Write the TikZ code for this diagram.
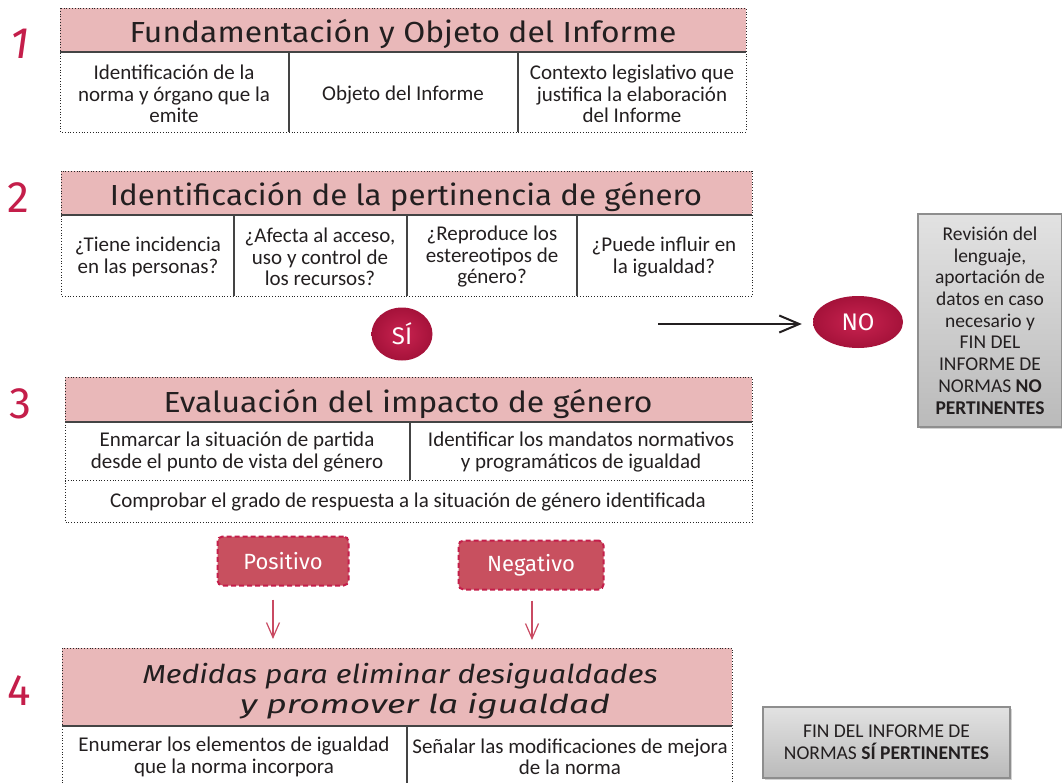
\documentclass[tikz,border=0pt]{standalone}
\usepackage{fontspec}
\usepackage{graphicx}
\setmainfont{Carlito}
\newfontfamily\hfont{Fira Sans}
\usetikzlibrary{arrows.meta,shadows,shapes.geometric}
\definecolor{pinkh}{HTML}{E9B8B9}
\definecolor{crim}{HTML}{C41E4A}
\definecolor{crimL}{HTML}{C92350}
\definecolor{crimD}{HTML}{A5123A}
\definecolor{posfill}{HTML}{C8505F}
\definecolor{arrowred}{HTML}{C94A62}
\definecolor{txt}{HTML}{231F20}
\definecolor{darkline}{HTML}{444444}
\definecolor{grayT}{HTML}{E2E2E2}
\definecolor{grayB}{HTML}{BABABA}
\definecolor{grayE}{HTML}{8E8E8E}
\newcommand\fitx[2]{\setbox0\hbox{#2}\pgfmathsetmacro\fitfac{#1/(\the\wd0)}\scalebox{\fitfac}[1]{\box0}}
\begin{document}
\begin{tikzpicture}[x=1pt,y=-1pt,
  outer/.style={draw=black!85, line width=0.8pt, dash pattern=on 0.8pt off 2pt},
  hline/.style={draw=darkline, line width=1.5pt},
  vline/.style={draw=darkline, line width=1.2pt},
  ttl/.style={font=\hfont\fontsize{29}{32}\selectfont, text=txt, anchor=base, inner sep=0pt},
  cell/.style={align=center, font=\fontsize{21}{21.5}\selectfont, text=txt, inner sep=0pt},
  num/.style={font=\hfont\fontsize{44}{46}\selectfont, text=crim, anchor=base, inner sep=0pt},
  oval/.style={ellipse, inner sep=0pt, shading=radial, inner color=crimL, outer color=crimD, text=white, font=\hfont\fontsize{24}{24}\selectfont},
  choice/.style={rectangle, rounded corners=5pt, fill=posfill, draw=crim, line width=2pt, dash pattern=on 5pt off 3pt, text=white, font=\hfont\fontsize{22}{22}\selectfont, minimum height=49, inner sep=0pt},
  graybox/.style={rectangle, top color=grayT, bottom color=grayB, draw=grayE, line width=1.2pt, align=center, text=txt, font=\fontsize{19.5}{21.7}\selectfont, inner sep=0pt, drop shadow={opacity=0.35, shadow xshift=2pt, shadow yshift=-2pt}},
  redarrow/.style={draw=arrowred, line width=1.2pt, -{Straight Barb[length=15pt,width=13pt,line width=1.2pt]}},
  blackarrow/.style={draw=txt, line width=2pt, -{Straight Barb[length=20pt,width=17pt,line width=2pt]}}
]
\useasboundingbox (0,0) rectangle (1062,782);

% ---------- Box 1
\fill[pinkh] (60,8) rectangle (746,52);
\draw[outer] (60,8) rectangle (746,132);
\draw[hline] (60,52) -- (746,52);
\draw[vline] (289,52) -- (289,132);
\draw[vline] (518,52) -- (518,132);
\node[num] (n1) at (20,58) {\itshape 1};
\node[ttl] (t1) at (403,42) {\fitx{547}{Fundamentación y Objeto del Informe}};
\node[cell] (c11) at (174,94) {Identificación de la\\norma y órgano que la\\emite};
\node[cell] (c12) at (403,95) {Objeto del Informe};
\node[cell] (c13) at (632,94) {Contexto legislativo que\\justifica la elaboración\\del Informe};

% ---------- Box 2
\fill[pinkh] (61,171) rectangle (752,215);
\draw[outer] (61,171) rectangle (752,296);
\draw[hline] (61,215) -- (752,215);
\draw[vline] (234,215) -- (234,296);
\draw[vline] (407,215) -- (407,296);
\draw[vline] (577,215) -- (577,296);
\node[num] (n2) at (18,212) {2};
\node[ttl] (t2) at (406,205) {\fitx{592}{Identificación de la pertinencia de género}};
\node[cell] (c21) at (148,257) {¿Tiene incidencia\\en las personas?};
\node[cell] (c22) at (320,257) {¿Afecta al acceso,\\uso y control de\\los recursos?};
\node[cell] (c23) at (492,257) {¿Reproduce los\\estereotipos de\\género?};
\node[cell] (c24) at (664,257) {¿Puede influir en\\la igualdad?};

% ---------- SI / NO
\node[oval, minimum width=61, minimum height=53] (si) at (402,334) {SÍ};
\node[oval, minimum width=90, minimum height=52] (no) at (858,322) {NO};
\coordinate (ns) at (658,324);
\draw[blackarrow, shorten >=11pt] (ns) -- (ns -| no.west);

\node[graybox, minimum width=144, minimum height=213] (g1) at (990,320.5)
  {Revisión del\\lenguaje,\\aportación de\\datos en caso\\necesario y\\FIN DEL\\INFORME DE\\NORMAS \textbf{NO}\\\textbf{PERTINENTES}};

% ---------- Box 3
\fill[pinkh] (65,377) rectangle (752,422);
\draw[outer] (65,377) rectangle (752,522);
\draw[outer] (65,480) -- (752,480);
\draw[hline] (65,422) -- (752,422);
\draw[vline] (410,422) -- (410,480);
\node[num] (n3) at (20,418) {3};
\node[ttl] (t3) at (408,412) {\fitx{489}{Evaluación del impacto de género}};
\node[cell] (c31) at (237,452) {Enmarcar la situación de partida\\desde el punto de vista del género};
\node[cell] (c32) at (581,452) {Identificar los mandatos normativos\\y programáticos de igualdad};
\node[cell] (c33) at (408,502) {Comprobar el grado de respuesta a la situación de género identificada};

% ---------- Positivo / Negativo
\node[choice, minimum width=131] (pos) at (283,561) {Positivo};
\node[choice, minimum width=145] (neg) at (531,565) {Negativo};
\coordinate (pe) at (273,639);
\coordinate (ne) at (532,640);
\draw[redarrow, shorten <=13pt] (pos.south -| pe) -- (pe);
\draw[redarrow, shorten <=10pt] (neg.south -| ne) -- (ne);

% ---------- Box 4
\fill[pinkh] (62,648) rectangle (732,726);
\draw[outer] (62,648) rectangle (732,786);
\draw[hline] (62,726) -- (732,726);
\draw[vline] (407,726) -- (407,786);
\node[num] (n4) at (19,705) {4};
\node[ttl, font=\hfont\itshape\fontsize{26}{29}\selectfont] (t4a) at (400,683) {\fitx{515}{Medidas para eliminar desigualdades}};
\node[ttl, font=\hfont\itshape\fontsize{26}{29}\selectfont] (t4b) at (425,713) {\fitx{370}{y promover la igualdad}};
\node[cell] (c41) at (234,757) {Enumerar los elementos de igualdad\\que la norma incorpora};
\node[cell] (c42) at (570,757) {Señalar las modificaciones de mejora\\de la norma};

\node[graybox, minimum width=247, minimum height=71] (g2) at (886.5,742.5)
  {FIN DEL INFORME DE\\NORMAS \textbf{SÍ PERTINENTES}};
\end{tikzpicture}
\end{document}
